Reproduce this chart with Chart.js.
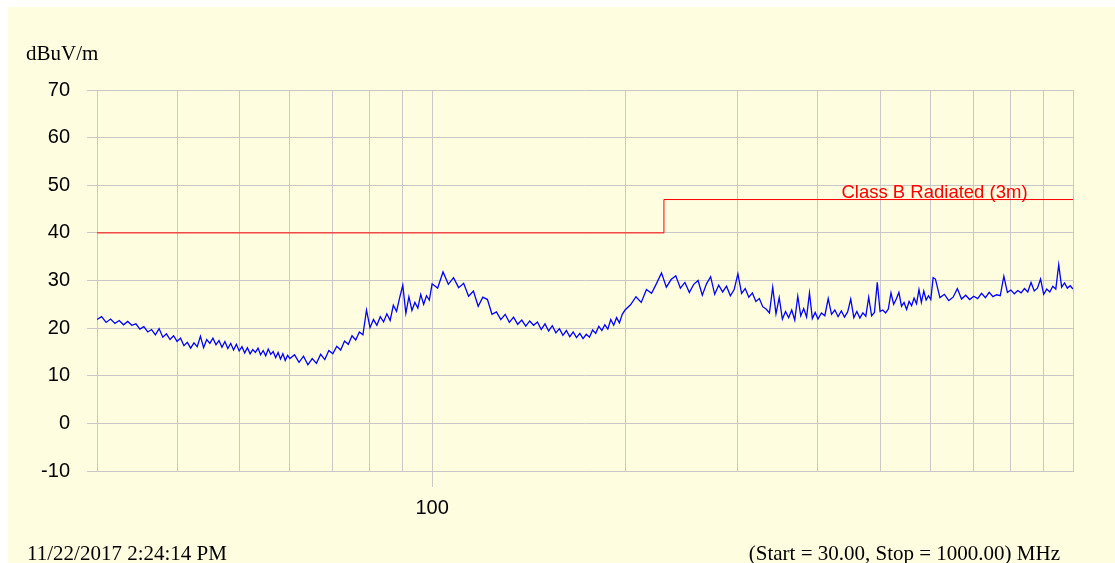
<!DOCTYPE html>
<html lang="en">
<head>
<meta charset="UTF-8">
<title>Radiated Emission Scan</title>
<script src="https://cdn.jsdelivr.net/npm/chart.js"></script>
<style>
  body { margin: 0; background: #ffffff; width: 1115px; height: 563px; overflow: hidden; position: relative; }
  .panel { position: absolute; left: 8px; top: 7px; width: 1107px; height: 556px; background: #fffde0; }
  .panel canvas { position: absolute; left: 0; top: 0; }
  .note { position: absolute; font-family: "Liberation Serif", "Times New Roman", serif; font-size: 21px; line-height: 21px; color: #000; white-space: nowrap; }
</style>
</head>
<body>
<div class="panel">
  <canvas id="scan" width="1107" height="556"></canvas>
  <div class="note" style="left:18px; top:36px;">dBuV/m</div>
  <div class="note" style="left:19px; top:536px;">11/22/2017 2:24:14 PM</div>
  <div class="note" style="right:55px; top:536px;">(Start = 30.00, Stop = 1000.00) MHz</div>
</div>
<script>
// measured trace, split into sweep bands (MHz / dBuV/m)
const freqBand1 = [30,30.5,31,31.5,32,32.5,33,33.5,34,34.5,35,35.5,36,36.5,37,37.5,38,38.5,39,39.5,
  40,40.5,41,41.5,42,42.5,43,43.5,44,44.5,45,45.5,46,46.5,47,47.5,48,48.5,49,49.5,
  50,50.5,51,51.5,52,52.5,53,53.5,54,54.5,55,55.5,56,56.5,57,57.5,58,58.5,59,59.5,60];
const levelBand1 = [21.8,22.4,21.2,21.9,21.0,21.6,20.7,21.4,20.6,20.9,19.8,20.3,19.2,19.7,18.6,19.9,18.1,18.8,17.6,18.4,
  17.2,17.9,16.3,17.0,15.8,16.9,16.1,18.3,15.9,17.6,16.8,17.9,16.5,17.4,16.0,17.2,15.7,16.8,15.4,16.6,
  15.2,16.1,14.8,15.9,14.6,15.5,14.9,15.8,14.4,15.3,14.2,15.6,14.5,15.1,13.8,14.9,13.5,14.6,13.2,14.3,13.6];

const freqBand2 = [61,62,63,64,65,66,67,68,69,70,71,72,73,74,75,76,77,78,79,80,
  81,82,83,84,85,86,87,88,89,90,91,92,93,94,95,96,97,98,99,100];
const levelBand2 = [14.4,12.8,14.1,12.3,13.6,12.6,14.5,13.4,15.3,14.6,16.2,15.4,17.3,16.6,18.4,17.5,19.2,18.6,23.8,20.1,
  21.8,20.6,22.4,21.3,23.0,21.6,24.8,23.5,26.4,29.0,23.1,26.6,23.7,25.4,24.2,27.1,25.0,26.8,25.9,29.3];

const freqBand3 = [102,104,106,108,110,112,114,116,118,120,122,124,126,128,130,132,134,136,138,140,
  142,144,146,148,150,152,154,156,158,160,162,164,166,168,170,172,174,176,178,180,
  182,184,186,188,190,192,194,196,198,200];
const levelBand3 = [28.4,31.8,29.2,30.6,28.5,29.4,26.7,27.8,24.6,26.5,26.0,22.9,23.4,21.8,22.9,21.2,22.3,20.8,21.7,20.4,
  21.5,20.6,21.3,19.7,20.9,19.4,20.5,19.0,19.9,18.5,19.5,18.2,19.2,18.0,18.9,17.8,18.7,18.1,19.6,18.9,
  20.4,19.5,20.7,19.8,21.8,20.6,22.2,21.1,22.9,23.8];

const freqBand4 = [204,208,212,216,220,224,228,232,236,240,244,248,252,256,260,264,268,272,276,280,
  284,288,292,296,300,304,308,312,316,320,324,328,332,336,340,344,348,352,356,360,
  364,368,372,376,380,384,388,392,396,400];
const levelBand4 = [24.9,26.6,25.4,28.1,27.3,29.4,31.6,28.6,30.2,31.0,28.4,29.6,27.5,29.2,30.0,26.9,29.3,30.8,27.1,29.0,
  27.6,28.8,26.8,28.1,31.4,27.3,28.3,26.5,27.4,25.6,26.2,24.5,24.0,23.2,28.6,23.0,26.4,21.9,23.5,22.2,
  23.8,21.7,26.7,22.6,24.1,22.3,27.4,22.0,23.3,21.9];

const freqBand5 = [405,410,415,420,425,430,435,440,445,450,455,460,465,470,475,480,485,490,495,500,
  505,510,515,520,525,530,535,540,545,550,555,560,565,570,575,580,585,590,595,600,605,610];
const levelBand5 = [23.2,22.6,26.2,22.9,23.8,22.4,23.6,22.3,23.4,26.1,22.2,23.5,22.1,23.2,22.5,26.5,22.6,23.3,29.6,23.5,
  23.8,23.2,24.0,27.4,25.0,26.1,27.5,24.6,25.4,23.9,25.6,24.7,26.3,25.1,28.1,25.4,27.8,25.9,26.8,26.0,30.6,30.3];

const freqBand6 = [620,630,640,650,660,670,680,690,700,710,720,730,740,750,760,770,780,790,800,810,
  820,830,840,850,860,870,880,890,900,910,920,930,940,950,960,970,980,990,1000];
const levelBand6 = [26.4,27.1,25.8,26.5,28.3,26.1,26.9,26.0,26.7,26.2,27.3,26.4,27.5,26.6,27.0,26.8,30.9,27.5,28.0,27.2,
  27.9,27.4,28.3,27.6,29.6,27.8,28.4,30.3,27.1,28.2,27.6,28.8,28.2,33.3,28.6,29.5,28.4,28.9,28.2];

// limit line
const limitFreq = [30, 230, 230, 1000];
const limitLevel = [40, 40, 47, 47];
const limitName = 'Class B Radiated (3m)';
const limitLabelFreq = 608;

// axes
const gridFreqs = [30,40,50,60,70,80,90,100,200,300,400,500,600,700,800,900,1000];
const xTickLabels = { 100: '100' };
const yMin = -10, yMax = 70, yStep = 10;

const freqs = [].concat(freqBand1, freqBand2, freqBand3, freqBand4, freqBand5, freqBand6);
const levels = [].concat(levelBand1, levelBand2, levelBand3, levelBand4, levelBand5, levelBand6);
const tracePoints = freqs.map((f, i) => ({ x: f, y: levels[i] }));
const limitPoints = limitFreq.map((f, i) => ({ x: f, y: limitLevel[i] }));

const gridColor = '#c8c8c8';
const tickFont = { family: 'Liberation Sans, Arial, sans-serif', size: 20 };

// red caption above the limit line
const limitLabel = {
  id: 'limitLabel',
  afterDatasetsDraw(chart) {
    const { ctx, scales } = chart;
    ctx.save();
    ctx.font = '18.5px "Liberation Sans", Arial, sans-serif';
    ctx.fillStyle = '#ff0000';
    ctx.textAlign = 'center';
    ctx.textBaseline = 'alphabetic';
    ctx.fillText(limitName, scales.x.getPixelForValue(limitLabelFreq), scales.y.getPixelForValue(47) - 1.5);
    ctx.restore();
  }
};

new Chart(document.getElementById('scan').getContext('2d'), {
  type: 'line',
  data: {
    datasets: [
      { label: limitName, data: limitPoints, borderColor: '#ff0000', borderWidth: 1, pointRadius: 0, tension: 0 },
      { label: 'Scan', data: tracePoints, borderColor: '#0000ff', borderWidth: 1.3, pointRadius: 0, tension: 0 }
    ]
  },
  options: {
    responsive: false,
    animation: false,
    layout: { padding: { left: 0, top: 83, right: 42, bottom: 0 } },
    plugins: { legend: { display: false }, tooltip: { enabled: false } },
    scales: {
      x: {
        type: 'logarithmic',
        min: 30,
        max: 1000,
        afterBuildTicks: (s) => { s.ticks = gridFreqs.map(v => ({ value: v })); },
        afterFit: (s) => { s.height = 92; },
        ticks: {
          autoSkip: false,
          maxRotation: 0,
          padding: 9,
          color: '#000',
          font: tickFont,
          callback: (v) => xTickLabels[v] || ''
        },
        grid: {
          color: gridColor,
          tickLength: 16,
          tickColor: (c) => (c.tick && xTickLabels[c.tick.value]) ? gridColor : 'rgba(0,0,0,0)'
        },
        border: { color: gridColor }
      },
      y: {
        min: yMin,
        max: yMax,
        afterFit: (s) => { s.width = 89; },
        ticks: { stepSize: yStep, padding: 17, color: '#000', font: tickFont },
        grid: { color: gridColor, tickLength: 10, tickColor: gridColor },
        border: { color: gridColor }
      }
    }
  },
  plugins: [limitLabel]
});
</script>
</body>
</html>
